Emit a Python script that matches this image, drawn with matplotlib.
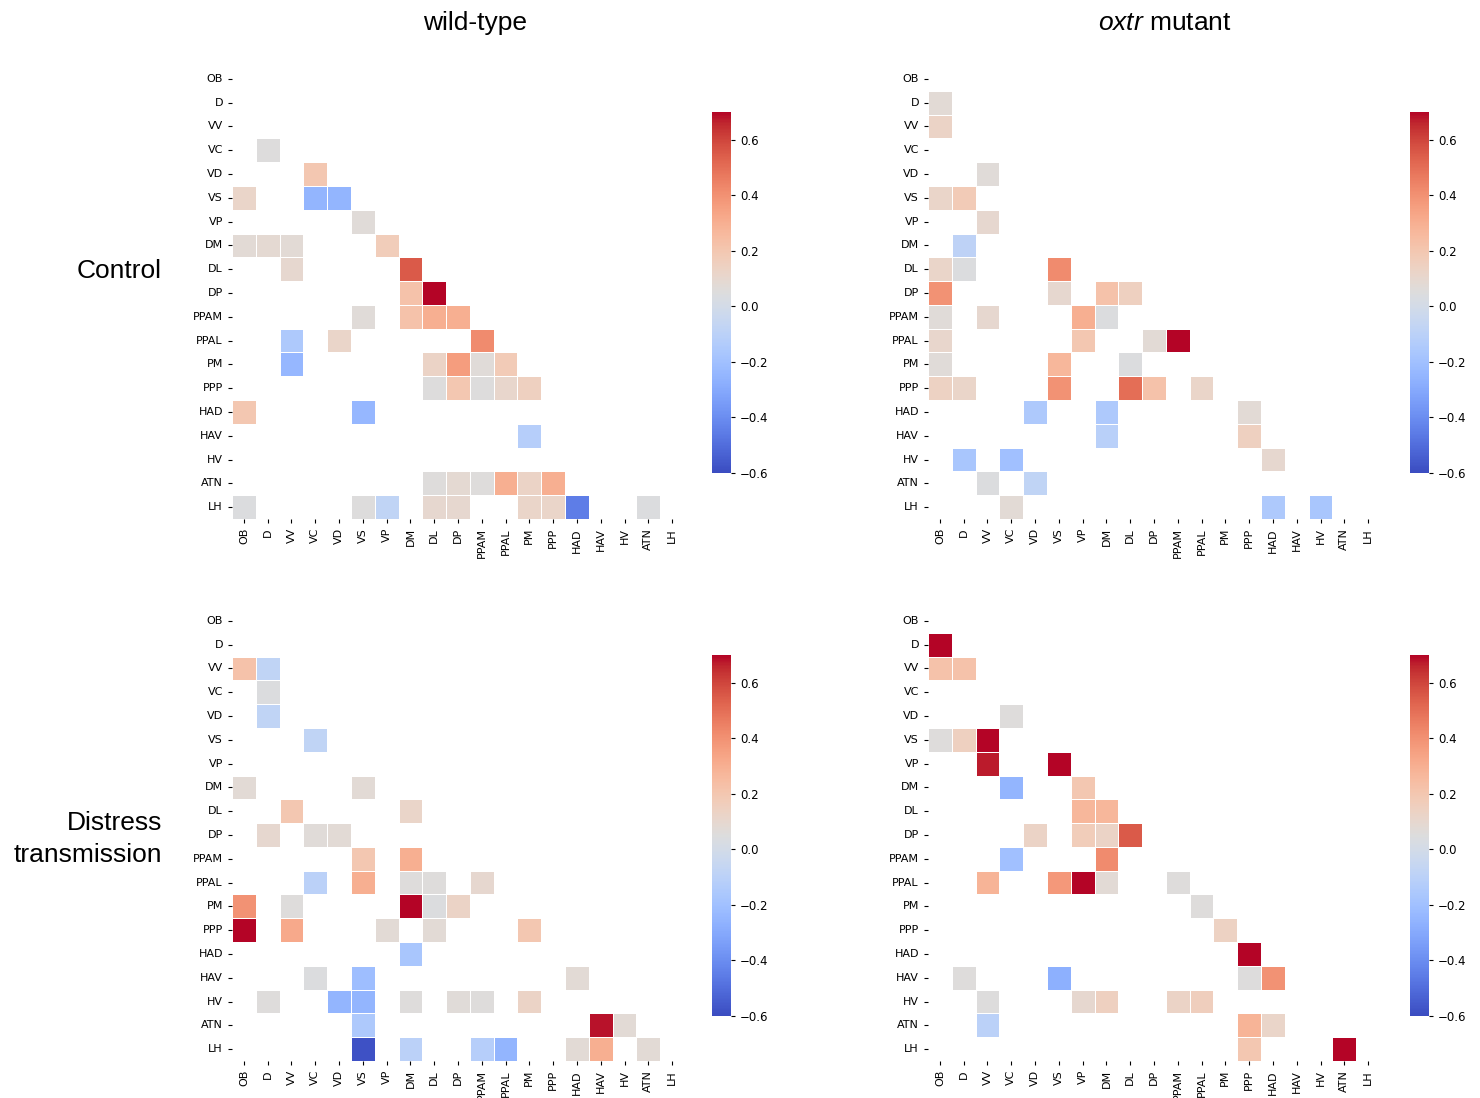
import numpy as np
import pandas as pd
import matplotlib
matplotlib.use("Agg")
import matplotlib.pyplot as plt
import seaborn as sns

# --- data -------------------------------------------------------------
regions = ["OB", "D", "VV", "VC", "VD", "VS", "VP", "DM", "DL", "DP",
           "PPAM", "PPAL", "PM", "PPP", "HAD", "HAV", "HV", "ATN", "LH"]

col_titles = ["wild-type", "$\\it{oxtr}$ mutant"]
row_titles = ["Control", "Distress\ntransmission"]

# only the significant cells are drawn: (row, column, r)
control_wt = [
    ("VC", "D", 0.05),
    ("VD", "VC", 0.20),
    ("VS", "OB", 0.12), ("VS", "VC", -0.25), ("VS", "VD", -0.25),
    ("VP", "VS", 0.07),
    ("DM", "OB", 0.08), ("DM", "D", 0.09), ("DM", "VV", 0.08), ("DM", "VP", 0.17),
    ("DL", "VV", 0.10), ("DL", "DM", 0.55),
    ("DP", "DM", 0.22), ("DP", "DL", 0.70),
    ("PPAM", "VS", 0.07), ("PPAM", "DM", 0.22), ("PPAM", "DL", 0.30), ("PPAM", "DP", 0.30),
    ("PPAL", "VV", -0.15), ("PPAL", "VD", 0.12), ("PPAL", "PPAM", 0.42),
    ("PM", "VV", -0.24), ("PM", "DL", 0.13), ("PM", "DP", 0.36), ("PM", "PPAM", 0.07),
    ("PM", "PPAL", 0.18),
    ("PPP", "DL", 0.05), ("PPP", "DP", 0.20), ("PPP", "PPAM", 0.05), ("PPP", "PPAL", 0.11),
    ("PPP", "PM", 0.15),
    ("HAD", "OB", 0.20), ("HAD", "VS", -0.24),
    ("HAV", "PM", -0.12),
    ("ATN", "DL", 0.06), ("ATN", "DP", 0.09), ("ATN", "PPAM", 0.06), ("ATN", "PPAL", 0.30),
    ("ATN", "PM", 0.13), ("ATN", "PPP", 0.30),
    ("LH", "OB", 0.04), ("LH", "VS", 0.05), ("LH", "VP", -0.08), ("LH", "DL", 0.10),
    ("LH", "DP", 0.10), ("LH", "PM", 0.12), ("LH", "PPP", 0.12), ("LH", "HAD", -0.45),
    ("LH", "ATN", 0.04),
]

control_oxtr = [
    ("D", "OB", 0.08),
    ("VV", "OB", 0.13),
    ("VD", "VV", 0.07),
    ("VS", "OB", 0.12), ("VS", "D", 0.18),
    ("VP", "VV", 0.10),
    ("DM", "D", -0.09),
    ("DL", "OB", 0.12), ("DL", "D", 0.04), ("DL", "VS", 0.42),
    ("DP", "OB", 0.40), ("DP", "VS", 0.10), ("DP", "DM", 0.22), ("DP", "DL", 0.15),
    ("PPAM", "OB", 0.07), ("PPAM", "VV", 0.10), ("PPAM", "VP", 0.30), ("PPAM", "DM", 0.04),
    ("PPAL", "OB", 0.11), ("PPAL", "VP", 0.20), ("PPAL", "DP", 0.08), ("PPAL", "PPAM", 0.70),
    ("PM", "OB", 0.07), ("PM", "VS", 0.27), ("PM", "DL", 0.04),
    ("PPP", "OB", 0.14), ("PPP", "D", 0.12), ("PPP", "VS", 0.40), ("PPP", "DL", 0.50),
    ("PPP", "DP", 0.22), ("PPP", "PPAL", 0.12),
    ("HAD", "VD", -0.15), ("HAD", "DM", -0.15), ("HAD", "PPP", 0.08),
    ("HAV", "DM", -0.11), ("HAV", "PPP", 0.15),
    ("HV", "D", -0.17), ("HV", "VC", -0.20), ("HV", "HAD", 0.10),
    ("ATN", "VV", 0.04), ("ATN", "VD", -0.08),
    ("LH", "VC", 0.08), ("LH", "HAD", -0.15), ("LH", "HV", -0.17),
]

distress_wt = [
    ("VV", "OB", 0.22), ("VV", "D", -0.08),
    ("VC", "D", 0.04),
    ("VD", "D", -0.08),
    ("VS", "VC", -0.08),
    ("DM", "OB", 0.08), ("DM", "VS", 0.08),
    ("DL", "VV", 0.20), ("DL", "DM", 0.12),
    ("DP", "D", 0.10), ("DP", "VC", 0.07), ("DP", "VD", 0.08),
    ("PPAM", "VS", 0.20), ("PPAM", "DM", 0.30),
    ("PPAL", "VC", -0.10), ("PPAL", "VS", 0.30), ("PPAL", "DM", 0.06), ("PPAL", "DL", 0.06),
    ("PPAL", "PPAM", 0.10),
    ("PM", "OB", 0.40), ("PM", "VV", 0.06), ("PM", "DM", 0.70), ("PM", "DL", 0.04),
    ("PM", "DP", 0.13),
    ("PPP", "OB", 0.70), ("PPP", "VV", 0.32), ("PPP", "VP", 0.08), ("PPP", "DL", 0.08),
    ("PPP", "PM", 0.20),
    ("HAD", "DM", -0.17),
    ("HAV", "VC", 0.04), ("HAV", "VS", -0.21), ("HAV", "HAD", 0.08),
    ("HV", "D", 0.06), ("HV", "VD", -0.25), ("HV", "VS", -0.25), ("HV", "DM", 0.06),
    ("HV", "DP", 0.07), ("HV", "PPAM", 0.06), ("HV", "PM", 0.13),
    ("ATN", "VS", -0.15), ("ATN", "HAV", 0.68), ("ATN", "HV", 0.08),
    ("LH", "VS", -0.58), ("LH", "DM", -0.10), ("LH", "PPAM", -0.12), ("LH", "PPAL", -0.25),
    ("LH", "HAD", 0.08), ("LH", "HAV", 0.30), ("LH", "ATN", 0.08),
]

distress_oxtr = [
    ("D", "OB", 0.70),
    ("VV", "OB", 0.22), ("VV", "D", 0.22),
    ("VD", "VC", 0.06),
    ("VS", "OB", 0.06), ("VS", "D", 0.15), ("VS", "VV", 0.70),
    ("VP", "VV", 0.67), ("VP", "VS", 0.70),
    ("DM", "VC", -0.25), ("DM", "VP", 0.20),
    ("DL", "VP", 0.27), ("DL", "DM", 0.27),
    ("DP", "VD", 0.13), ("DP", "VP", 0.17), ("DP", "DM", 0.13), ("DP", "DL", 0.55),
    ("PPAM", "VC", -0.20), ("PPAM", "DM", 0.42),
    ("PPAL", "VV", 0.28), ("PPAL", "VS", 0.38), ("PPAL", "VP", 0.70), ("PPAL", "DM", 0.08),
    ("PPAL", "PPAM", 0.06),
    ("PM", "PPAL", 0.06),
    ("PPP", "PM", 0.14),
    ("HAD", "PPP", 0.70),
    ("HAV", "D", 0.06), ("HAV", "VS", -0.27), ("HAV", "PPP", 0.05), ("HAV", "HAD", 0.40),
    ("HV", "VV", 0.05), ("HV", "VP", 0.10), ("HV", "DM", 0.15), ("HV", "PPAM", 0.13),
    ("HV", "PPAL", 0.16),
    ("ATN", "VV", -0.10), ("ATN", "PPP", 0.28), ("ATN", "HAD", 0.12),
    ("LH", "PPP", 0.20), ("LH", "ATN", 0.70),
]

panels = [[control_wt, control_oxtr], [distress_wt, distress_oxtr]]


def to_matrix(cells):
    m = pd.DataFrame(np.nan, index=regions, columns=regions)
    for r, c, v in cells:
        m.loc[r, c] = v
    return m


W, H = 1480, 1098


def px_axes(fig, x0, y0, x1, y1):
    # pixel box (top-left origin) -> figure fraction
    return fig.add_axes([x0 / W, 1 - y1 / H, (x1 - x0) / W, (y1 - y0) / H])


plt.rcParams["mathtext.fontset"] = "custom"
plt.rcParams["mathtext.rm"] = "Liberation Sans"
plt.rcParams["mathtext.it"] = "Liberation Sans:italic"

fig = plt.figure(figsize=(W / 100, H / 100), dpi=100)

hm_x = [232, 928]
cb_x = [712, 1410]
hm_y = [67, 609]
cb_y = [112, 655]
size = 452

for i in range(2):
    for j in range(2):
        ax = px_axes(fig, hm_x[j], hm_y[i], hm_x[j] + size, hm_y[i] + size)
        cax = px_axes(fig, cb_x[j], cb_y[i], cb_x[j] + 19, cb_y[i] + 361)
        sns.heatmap(to_matrix(panels[i][j]), ax=ax, cbar_ax=cax, cmap="coolwarm",
                    vmin=-0.6, vmax=0.7, linewidths=0.6, linecolor="white",
                    xticklabels=regions, yticklabels=regions)
        ax.tick_params(axis="both", labelsize=8, length=3)
        ax.set_yticklabels(regions, rotation=0)
        ax.set_xticklabels(regions, rotation=90)
        cax.set_yticks([-0.6, -0.4, -0.2, 0.0, 0.2, 0.4, 0.6])
        cax.tick_params(labelsize=8.5, length=3)

fig.text(475 / W, 1 - 23 / H, col_titles[0], ha="center", va="center",
         fontsize=19, family="Liberation Sans")
fig.text(1165 / W, 1 - 23 / H, col_titles[1], ha="center", va="center",
         fontsize=19, family="Liberation Sans")
fig.text(162 / W, 1 - 271 / H, row_titles[0], ha="right", va="center",
         fontsize=19, family="Liberation Sans")
fig.text(162 / W, 1 - 839 / H, row_titles[1], ha="right", va="center",
         fontsize=19, family="Liberation Sans", multialignment="right",
         linespacing=1.45)

fig.savefig("out.png", dpi=100)
